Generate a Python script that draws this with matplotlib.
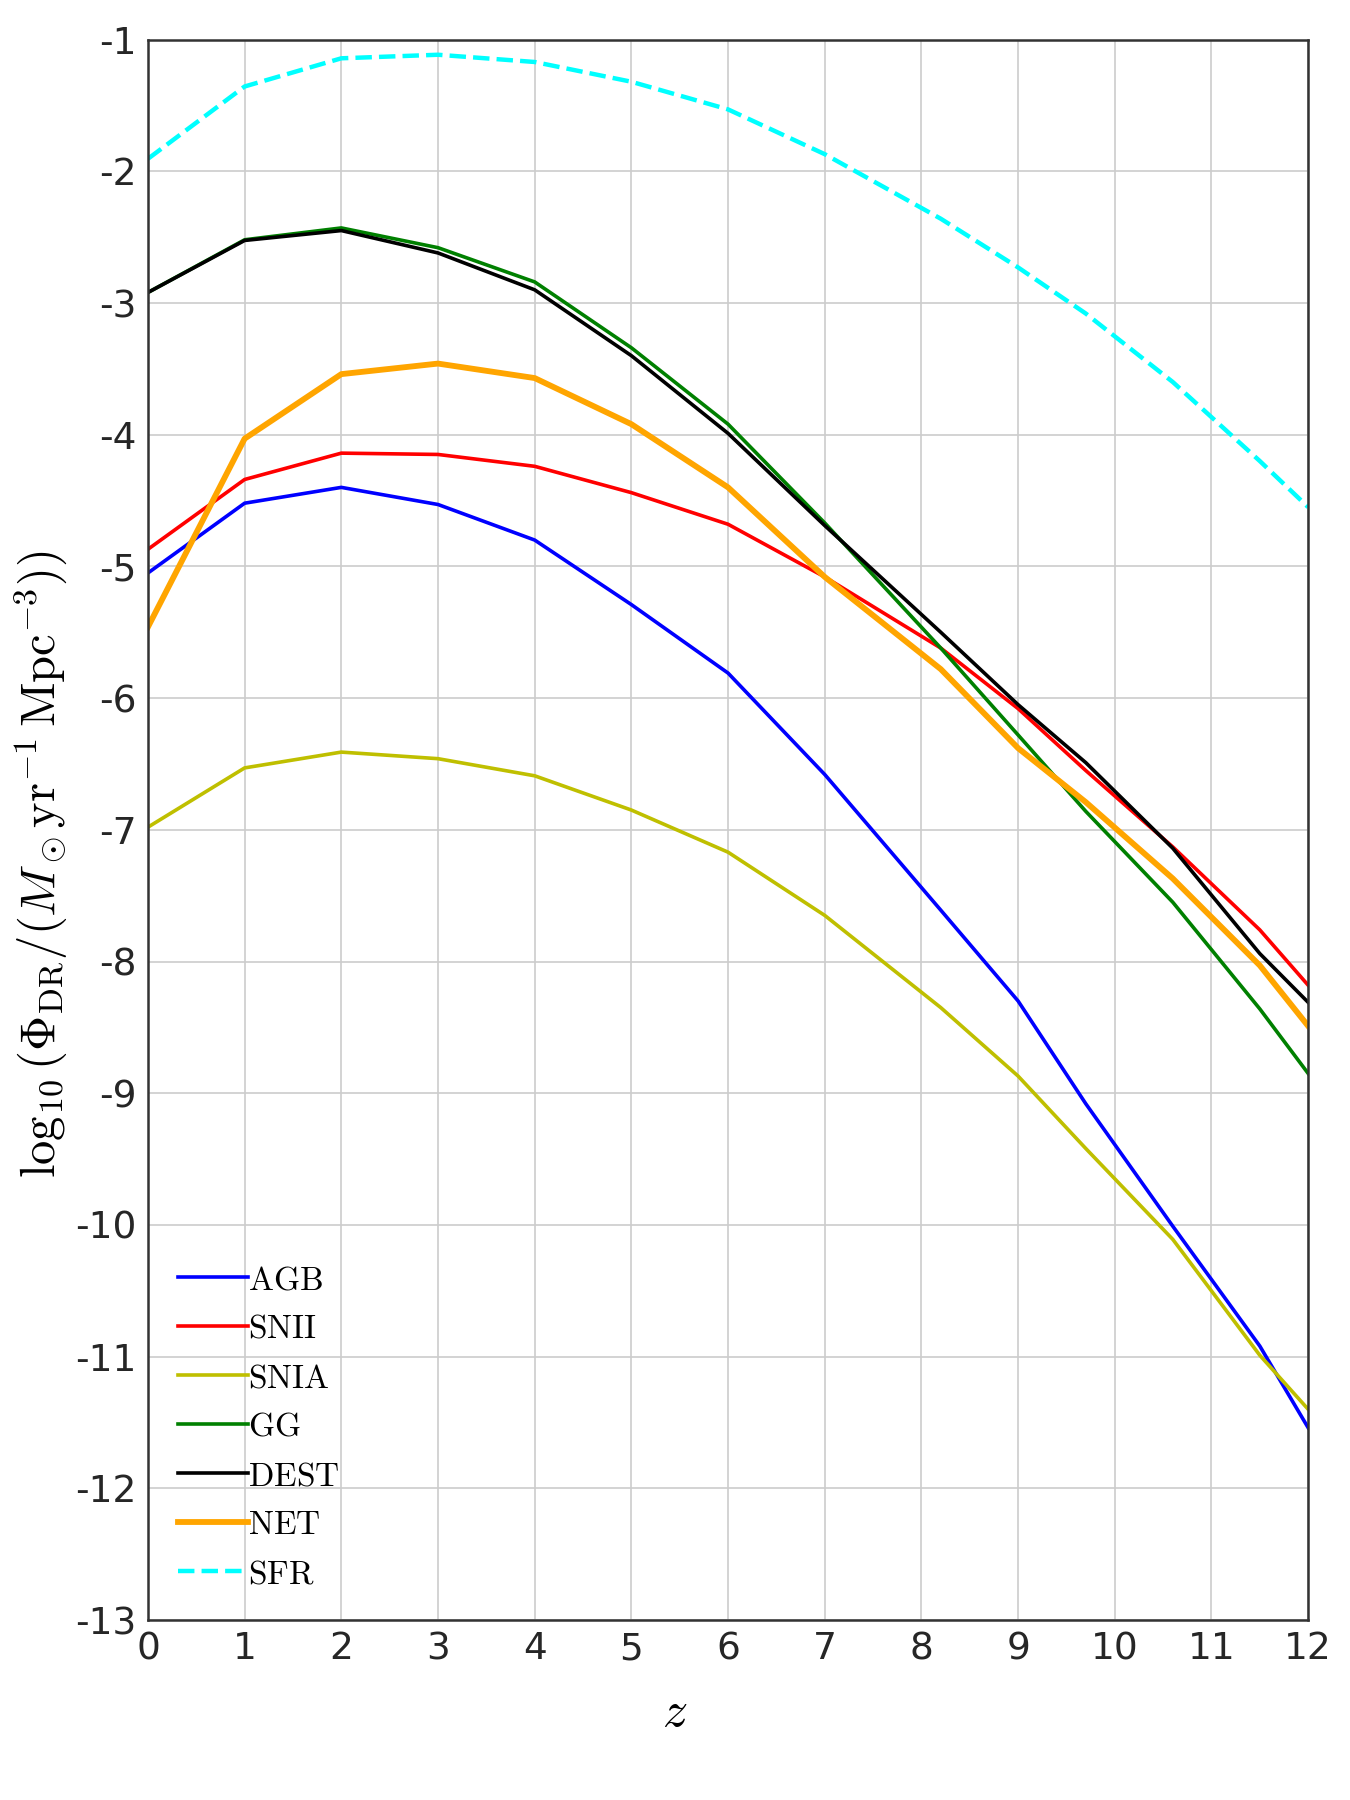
import numpy as np
import matplotlib.pyplot as plt

plt.rcParams['mathtext.fontset'] = 'cm'
plt.rcParams['font.family'] = ['DejaVu Sans']

# redshift grid
z = [0, 1, 2, 3, 4, 5, 6, 7, 8.2, 9.0, 9.7, 10.6, 11.5, 12]

agb = [-5.05, -4.52, -4.40, -4.53, -4.80, -5.29, -5.81, -6.58, -7.61, -8.30, -9.08, -10.01, -10.92, -11.54]
snii = [-4.87, -4.34, -4.14, -4.15, -4.24, -4.44, -4.68, -5.08, -5.62, -6.08, -6.55, -7.13, -7.76, -8.18]
snia = [-6.98, -6.53, -6.41, -6.46, -6.59, -6.85, -7.17, -7.65, -8.35, -8.87, -9.42, -10.11, -10.99, -11.40]
gg = [-2.92, -2.52, -2.43, -2.58, -2.84, -3.34, -3.92, -4.67, -5.62, -6.28, -6.86, -7.55, -8.36, -8.85]
dest = [-2.92, -2.525, -2.45, -2.62, -2.90, -3.40, -3.99, -4.69, -5.50, -6.05, -6.49, -7.14, -7.94, -8.31]
net = [-5.46, -4.03, -3.54, -3.46, -3.57, -3.92, -4.40, -5.08, -5.78, -6.38, -6.79, -7.37, -8.03, -8.49]
sfr = [-1.905, -1.356, -1.142, -1.115, -1.17, -1.32, -1.53, -1.87, -2.36, -2.73, -3.08, -3.60, -4.20, -4.55]

fig = plt.figure(figsize=(13.5, 18), dpi=100)
ax = fig.add_axes([0.1096, 0.1, 0.8594, 0.878])

ax.plot(z, agb, color='b', lw=2.6, label=r'$\mathrm{AGB}$')
ax.plot(z, snii, color='r', lw=2.6, label=r'$\mathrm{SNII}$')
ax.plot(z, snia, color='y', lw=2.6, label=r'$\mathrm{SNIA}$')
ax.plot(z, gg, color='g', lw=2.6, label=r'$\mathrm{GG}$')
ax.plot(z, dest, color='k', lw=2.6, label=r'$\mathrm{DEST}$')
ax.plot(z, net, color='orange', lw=4.2, label=r'$\mathrm{NET}$')
ax.plot(z, sfr, color='cyan', lw=3.2, ls='--', label=r'$\mathrm{SFR}$')

ax.set_xlim(0, 12)
ax.set_ylim(-13, -1)
ax.set_xticks(range(0, 13))
ax.set_yticks(range(-13, 0))
ax.set_yticklabels([str(v) for v in range(-13, 0)])
ax.tick_params(length=0, labelsize=27, colors='#262626', pad=8)

ax.grid(True, color='#cccccc', lw=1.2)
ax.set_axisbelow(True)
for s in ax.spines.values():
    s.set_color('#333333')
    s.set_linewidth(1.8)

ax.set_xlabel(r'$z$', fontsize=36)
ax.xaxis.set_label_coords(0.454, -0.043)
ax.set_ylabel(r'$\log_{10}(\Phi_{\rm DR}/(M_\odot{\rm yr}^{-1}\,{\rm Mpc}^{-3}))$', fontsize=35)
ax.yaxis.set_label_coords(-0.068, 0.478)

ax.legend(loc='lower left', frameon=False, fontsize=24, handlelength=2.1,
          handletextpad=0.0, labelspacing=0.48, borderaxespad=0.5)

fig.savefig('out.png', dpi=100)
